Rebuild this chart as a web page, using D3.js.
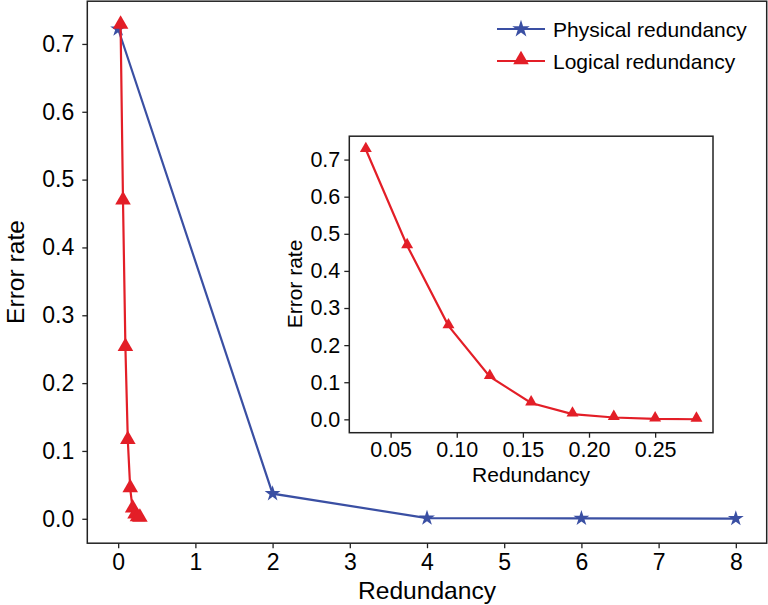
<!DOCTYPE html>
<html><head><meta charset="utf-8">
<script src="https://cdn.jsdelivr.net/npm/d3@7"></script>
<style>
html,body{margin:0;padding:0;background:#fff;}
svg{display:block;}
text{font-family:"Liberation Sans",Arial,sans-serif;fill:#000;}
</style></head>
<body>
<svg id="chart" width="768" height="605"></svg>
<script>
// ---- data ----
const physicalX = [0, 2, 4, 6, 8];
const physicalY = [0.722, 0.037, 0.001, 0.0006, 0.0003];
const logicalX = [0.03125, 0.0625, 0.09375, 0.125, 0.15625, 0.1875, 0.21875, 0.25, 0.28125];
const logicalY = [0.727, 0.468, 0.252, 0.115, 0.044, 0.014, 0.005, 0.001, 0.0003];
const mainXTicks = [0, 1, 2, 3, 4, 5, 6, 7, 8];
const mainYTicks = [0.0, 0.1, 0.2, 0.3, 0.4, 0.5, 0.6, 0.7];
const insetXTicks = [0.05, 0.10, 0.15, 0.20, 0.25];
const insetYTicks = [0.0, 0.1, 0.2, 0.3, 0.4, 0.5, 0.6, 0.7];
const seriesNames = ["Physical redundancy", "Logical redundancy"];

const BLUE = "#3a4fa3", RED = "#e31e27", FRAME = "#222";
const svg = d3.select("#chart");

function zipPts(xs, ys){ return xs.map((x,i)=>[x, ys[i]]); }

function drawAxes(g, x, y, xTicks, yTicks, xFmt, yFmt, fs, tickLen){
  const [x0,x1] = x.range(), [y1,y0] = y.range();
  const xa = g.append("g").attr("transform", `translate(0,${y1})`)
    .call(d3.axisBottom(x).tickValues(xTicks).tickFormat(d3.format(xFmt)).tickSize(tickLen).tickPadding(3));
  const ya = g.append("g").attr("transform", `translate(${x0},0)`)
    .call(d3.axisLeft(y).tickValues(yTicks).tickFormat(d3.format(yFmt)).tickSize(tickLen).tickPadding(3));
  [xa, ya].forEach(a=>{
    a.select(".domain").remove();
    a.selectAll(".tick line").attr("stroke", FRAME).attr("stroke-width", 1.3);
    a.selectAll(".tick text").attr("font-size", fs).attr("font-family", '"Liberation Sans",Arial,sans-serif').attr("fill","#000");
  });
  return {xa, ya};
}

// ---- main plot ----
const mx = d3.scaleLinear().domain([-0.4, 8.4]).range([87.3, 766.7]);
const my = d3.scaleLinear().domain([-0.036, 0.763]).range([543.2, 1.2]);
const main = svg.append("g");
main.append("rect").attr("x", 87.3).attr("y", 1.2).attr("width", 766.7-87.3).attr("height", 543.2-1.2)
  .attr("fill", "#fff");
const ax = drawAxes(main, mx, my, mainXTicks, mainYTicks, "d", ".1f", 23, 5);
ax.xa.selectAll(".tick text").attr("dy", "0.71em").attr("y", 10);
ax.ya.selectAll(".tick text").attr("x", -13);

const line = (x, y) => d3.line().x(d=>x(d[0])).y(d=>y(d[1]));
const physPts = zipPts(physicalX, physicalY);
const logPts = zipPts(logicalX, logicalY);

main.append("path").datum(physPts).attr("d", line(mx,my)).attr("fill","none").attr("stroke",BLUE).attr("stroke-width",2.2);
main.selectAll(".star").data(physPts).join("path")
  .attr("transform", d=>`translate(${mx(d[0])},${my(d[1])})`)
  .attr("d", d3.symbol(d3.symbolStar, 78)).attr("fill", BLUE);
main.append("path").datum(logPts).attr("d", line(mx,my)).attr("fill","none").attr("stroke",RED).attr("stroke-width",2.2);
main.selectAll(".tri").data(logPts).join("path")
  .attr("transform", d=>`translate(${mx(d[0])},${my(d[1]) - 1.3})`)
  .attr("d", d3.symbol(d3.symbolTriangle, 105)).attr("fill", RED);

main.append("rect").attr("x", 87.3).attr("y", 1.2).attr("width", 766.7-87.3).attr("height", 543.2-1.2)
  .attr("fill", "none").attr("stroke", FRAME).attr("stroke-width", 1.5);

main.append("text").attr("x", 427).attr("y", 599).attr("text-anchor","middle").attr("font-size", 24.6).text("Redundancy");
main.append("text").attr("transform","translate(24,272) rotate(-90)").attr("text-anchor","middle").attr("font-size", 24.6).text("Error rate");

// legend
const leg = svg.append("g");
[[BLUE, d3.symbolStar, 95, 29], [RED, d3.symbolTriangle, 105, 61]].forEach((s, i)=>{
  leg.append("line").attr("x1", 497).attr("x2", 545).attr("y1", s[3]).attr("y2", s[3]).attr("stroke", s[0]).attr("stroke-width", 2.2);
  leg.append("path").attr("transform", `translate(521,${s[3] - (i===1?1.3:0)})`).attr("d", d3.symbol(s[1], s[2])).attr("fill", s[0]);
  leg.append("text").attr("x", 553).attr("y", s[3] + 7.5).attr("font-size", 21).text(seriesNames[i]);
});

// ---- inset ----
const ix = d3.scaleLinear().domain([0.01875, 0.29375]).range([349.3, 713]);
const iy = d3.scaleLinear().domain([-0.036, 0.763]).range([432.7, 136.2]);
const inset = svg.append("g");
inset.append("rect").attr("x", 349.3).attr("y", 136.2).attr("width", 713-349.3).attr("height", 432.7-136.2).attr("fill","#fff");
const ia = drawAxes(inset, ix, iy, insetXTicks, insetYTicks, ".2f", ".1f", 21.5, 5);
ia.xa.selectAll(".tick text").attr("dy", "0.71em").attr("y", 9);
ia.ya.selectAll(".tick text").attr("x", -9);
inset.append("path").datum(logPts).attr("d", line(ix,iy)).attr("fill","none").attr("stroke",RED).attr("stroke-width",2.2);
inset.selectAll(".tri").data(logPts).join("path")
  .attr("transform", d=>`translate(${ix(d[0])},${iy(d[1]) - 1})`)
  .attr("d", d3.symbol(d3.symbolTriangle, 62)).attr("fill", RED);
inset.append("rect").attr("x", 349.3).attr("y", 136.2).attr("width", 713-349.3).attr("height", 432.7-136.2)
  .attr("fill","none").attr("stroke", FRAME).attr("stroke-width", 1.5);
inset.append("text").attr("x", 531).attr("y", 482).attr("text-anchor","middle").attr("font-size", 21).text("Redundancy");
inset.append("text").attr("transform","translate(302,284) rotate(-90)").attr("text-anchor","middle").attr("font-size", 21).text("Error rate");
</script>
</body></html>
